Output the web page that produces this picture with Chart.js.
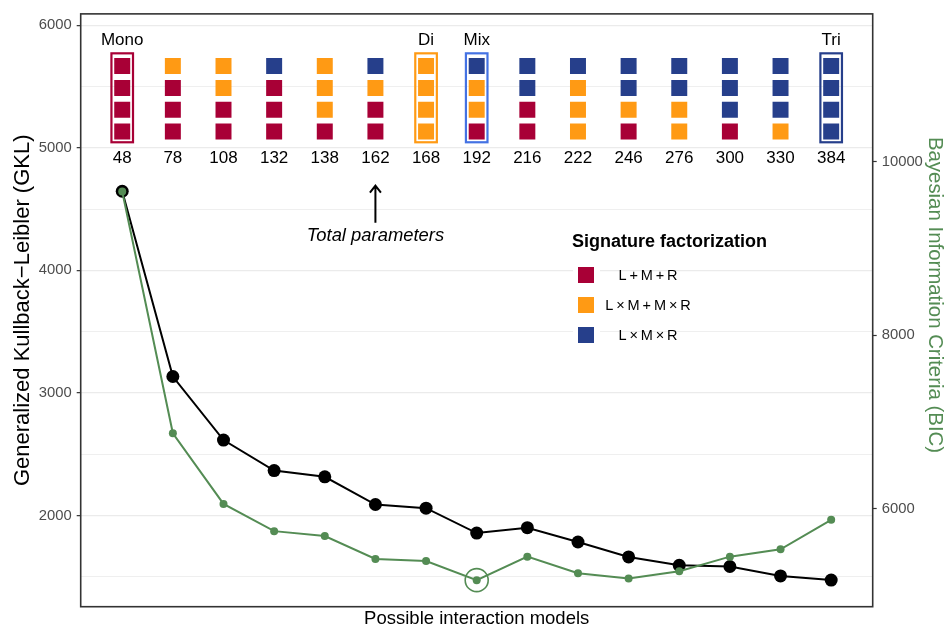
<!DOCTYPE html>
<html>
<head>
<meta charset="utf-8">
<script src="https://cdn.jsdelivr.net/npm/chart.js@4.4.1/dist/chart.umd.min.js"></script>
<style>
  html, body { margin: 0; padding: 0; background: #fff; }
</style>
</head>
<body>
<canvas id="klChart" width="948" height="628"></canvas>
<script>
// total parameters of each interaction model
const params = [48, 78, 108, 132, 138, 162, 168, 192, 216, 222, 246, 276, 300, 330, 384];
// Generalized Kullback-Leibler (left axis)
const gkl = [4646, 3134, 2615, 2366, 2315, 2089, 2059, 1856, 1900, 1783, 1661, 1593, 1583, 1506, 1472];
// Bayesian Information Criteria (right axis)
const bic = [9656, 6868, 6054, 5740, 5683, 5419, 5396, 5175, 5446, 5255, 5194, 5278, 5446, 5530, 5870];

// factorization of the 4 signature parts, top row to bottom row
const row1 = ["R", "O", "O", "B", "O", "B", "O", "B", "B", "B", "B", "B", "B", "B", "B"];
const row2 = ["R", "R", "O", "R", "O", "O", "O", "O", "B", "O", "B", "B", "B", "B", "B"];
const row3 = ["R", "R", "R", "R", "O", "R", "O", "O", "R", "O", "O", "O", "B", "B", "B"];
const row4 = ["R", "R", "R", "R", "R", "R", "O", "R", "R", "O", "R", "O", "R", "O", "B"];

const factorCodes = ["R", "O", "B"];
const factorNames = ["L\u2009+\u2009M\u2009+\u2009R", "L\u2009\u00d7\u2009M\u2009+\u2009M\u2009\u00d7\u2009R", "L\u2009\u00d7\u2009M\u2009\u00d7\u2009R"];
const factorColors = ["#A80036", "#FF9A14", "#263F8B"];

// named models that get a frame
const modelNames = ["Mono", "", "", "", "", "", "Di", "Mix", "", "", "", "", "", "", "Tri"];
const frameColors = ["#A80036", "", "", "", "", "", "#FF9A14", "#4472E3", "", "", "", "", "", "", "#263F8B"];

const leftTicks = [2000, 3000, 4000, 5000, 6000];
const leftMinor = [1500, 2500, 3500, 4500, 5500];
const rightTicks = [6000, 8000, 10000];

const green = "#548C54";
const font = "'Liberation Sans', Arial, Helvetica, sans-serif";

// where the tile annotation sits, in GKL units
const rowY = [5668, 5489, 5311, 5133];
const frameTop = 5772, frameBottom = 5046, frameHalf = 0.213;
const nameY = 5878, paramY = 4918;
const arrowAt = 162, arrowTop = 4701, arrowBottom = 4390, arrowTextY = 4285;

const rows = [row1, row2, row3, row4];
const tileSets = factorCodes.map((code, k) => {
  const pts = [];
  rows.forEach((row, r) => {
    row.forEach((c, i) => {
      if (c === code) pts.push({ x: i, y: rowY[r] });
    });
  });
  return {
    label: factorNames[k],
    data: pts,
    yAxisID: "y",
    showLine: false,
    pointStyle: "rect",
    pointRadius: 11.3,
    pointHoverRadius: 11.3,
    pointBorderWidth: 0,
    pointBackgroundColor: factorColors[k],
    order: 5,
  };
});

let bestIdx = 0;
bic.forEach((v, i) => { if (v < bic[bestIdx]) bestIdx = i; });

const decor = {
  id: "decor",
  afterDatasetsDraw(chart) {
    const ctx = chart.ctx;
    const xs = chart.scales.x;
    const ys = chart.scales.y;
    const a = chart.chartArea;
    ctx.save();

    // frames and model names
    const half = xs.getPixelForValue(frameHalf) - xs.getPixelForValue(0);
    ctx.textAlign = "center";
    ctx.textBaseline = "middle";
    ctx.font = "17px " + font;
    ctx.fillStyle = "#000";
    modelNames.forEach((n, i) => {
      if (!n) return;
      const px = xs.getPixelForValue(i);
      const top = ys.getPixelForValue(frameTop);
      const bot = ys.getPixelForValue(frameBottom);
      ctx.strokeStyle = frameColors[i];
      ctx.lineWidth = 2.2;
      ctx.strokeRect(px - half, top, 2 * half, bot - top);
      ctx.fillText(n, px, ys.getPixelForValue(nameY));
    });

    // parameter counts
    params.forEach((p, i) => {
      ctx.fillText(String(p), xs.getPixelForValue(i), ys.getPixelForValue(paramY));
    });

    // arrow + label
    const ax = xs.getPixelForValue(params.indexOf(arrowAt));
    const at = ys.getPixelForValue(arrowTop);
    const ab = ys.getPixelForValue(arrowBottom);
    ctx.strokeStyle = "#000";
    ctx.lineWidth = 2;
    ctx.beginPath();
    ctx.moveTo(ax, ab);
    ctx.lineTo(ax, at + 1);
    ctx.moveTo(ax - 5.5, at + 8);
    ctx.lineTo(ax, at + 1);
    ctx.lineTo(ax + 5.5, at + 8);
    ctx.stroke();
    ctx.font = "italic 18.4px " + font;
    ctx.fillText("Total parameters", ax, ys.getPixelForValue(arrowTextY));

    // legend
    ctx.textAlign = "left";
    ctx.font = "bold 18px " + font;
    ctx.fillText("Signature factorization", 572, 242);
    ctx.font = "14.5px " + font;
    factorNames.forEach((name, k) => {
      const cy = 275 + 30 * k;
      ctx.fillStyle = "#fff";
      ctx.fillRect(573, cy - 14, 27, 28);
      ctx.fillStyle = factorColors[k];
      ctx.fillRect(578, cy - 8, 16, 16);
      ctx.fillStyle = "#000";
      ctx.textAlign = "center";
      ctx.fillText(name, 648, cy + 1);
      ctx.textAlign = "left";
    });

    // panel border
    ctx.strokeStyle = "#333333";
    ctx.lineWidth = 1.6;
    ctx.strokeRect(a.left, a.top, a.right - a.left, a.bottom - a.top);

    // axis titles
    ctx.fillStyle = "#000";
    ctx.textAlign = "center";
    ctx.font = "18.5px " + font;
    ctx.fillText("Possible interaction models", (a.left + a.right) / 2, 619);
    const cy = (a.top + a.bottom) / 2;
    ctx.save();
    ctx.translate(22.5, cy);
    ctx.rotate(-Math.PI / 2);
    ctx.font = "22px " + font;
    ctx.fillText("Generalized Kullback\u2212Leibler (GKL)", 0, 0);
    ctx.restore();
    ctx.save();
    ctx.translate(934.5, 295);
    ctx.rotate(Math.PI / 2);
    ctx.font = "20.4px " + font;
    ctx.fillStyle = green;
    ctx.fillText("Bayesian Information Criteria (BIC)", 0, 0);
    ctx.restore();

    ctx.restore();
  },
};

new Chart(document.getElementById("klChart"), {
  type: "line",
  data: {
    datasets: [
      {
        label: "GKL",
        data: gkl.map((v, i) => ({ x: i, y: v })),
        yAxisID: "y",
        borderColor: "#000",
        borderWidth: 2,
        tension: 0,
        pointRadius: 6.5,
        pointHoverRadius: 6.5,
        pointBorderWidth: 0,
        pointBackgroundColor: "#000",
        order: 3,
      },
      {
        label: "BIC",
        data: bic.map((v, i) => ({ x: i, y: v })),
        yAxisID: "y2",
        borderColor: green,
        borderWidth: 2,
        tension: 0,
        pointRadius: 4,
        pointHoverRadius: 4,
        pointBorderWidth: 0,
        pointBackgroundColor: green,
        order: 2,
      },
      {
        label: "best BIC",
        data: [{ x: bestIdx, y: bic[bestIdx] }],
        yAxisID: "y2",
        showLine: false,
        pointRadius: 11.5,
        pointHoverRadius: 11.5,
        pointBorderWidth: 1.6,
        pointBorderColor: green,
        pointBackgroundColor: "rgba(0,0,0,0)",
        order: 1,
      },
      ...tileSets,
    ],
  },
  options: {
    responsive: false,
    animation: false,
    devicePixelRatio: 1,
    layout: { padding: { top: 10.7, left: 0, right: 0, bottom: 0 } },
    plugins: { legend: { display: false }, tooltip: { enabled: false } },
    scales: {
      x: {
        type: "linear",
        min: -0.82,
        max: 14.82,
        ticks: { display: false },
        grid: { display: false },
        border: { display: false },
        afterFit: (axis) => { axis.height = 21.3; },
      },
      y: {
        position: "left",
        min: 1255,
        max: 6094,
        afterBuildTicks: (axis) => {
          axis.ticks = leftMinor.concat(leftTicks).sort((p, q) => p - q).map((v) => ({ value: v }));
        },
        ticks: {
          callback: (v) => (leftTicks.includes(v) ? String(v) : ""),
          color: "#4D4D4D",
          font: { size: 14.8, family: font },
          padding: 5,
        },
        grid: {
          color: "#EBEBEB",
          lineWidth: (c) => (c.tick && leftTicks.includes(c.tick.value) ? 1.3 : 0.8),
          tickColor: (c) => (c.tick && leftTicks.includes(c.tick.value) ? "#333333" : "rgba(0,0,0,0)"),
          tickLength: 4,
          tickWidth: 1.2,
        },
        border: { display: false },
        afterFit: (axis) => { axis.width = 80.7; },
      },
      y2: {
        position: "right",
        min: 4869,
        max: 11703,
        afterBuildTicks: (axis) => {
          axis.ticks = rightTicks.map((v) => ({ value: v }));
        },
        ticks: {
          callback: (v) => String(v),
          color: "#4D4D4D",
          font: { size: 14.8, family: font },
          padding: 5,
        },
        grid: {
          drawOnChartArea: false,
          tickColor: "#333333",
          tickLength: 4,
          tickWidth: 1.2,
        },
        border: { display: false },
        afterFit: (axis) => { axis.width = 75.3; },
      },
    },
  },
  plugins: [decor],
});
</script>
</body>
</html>
